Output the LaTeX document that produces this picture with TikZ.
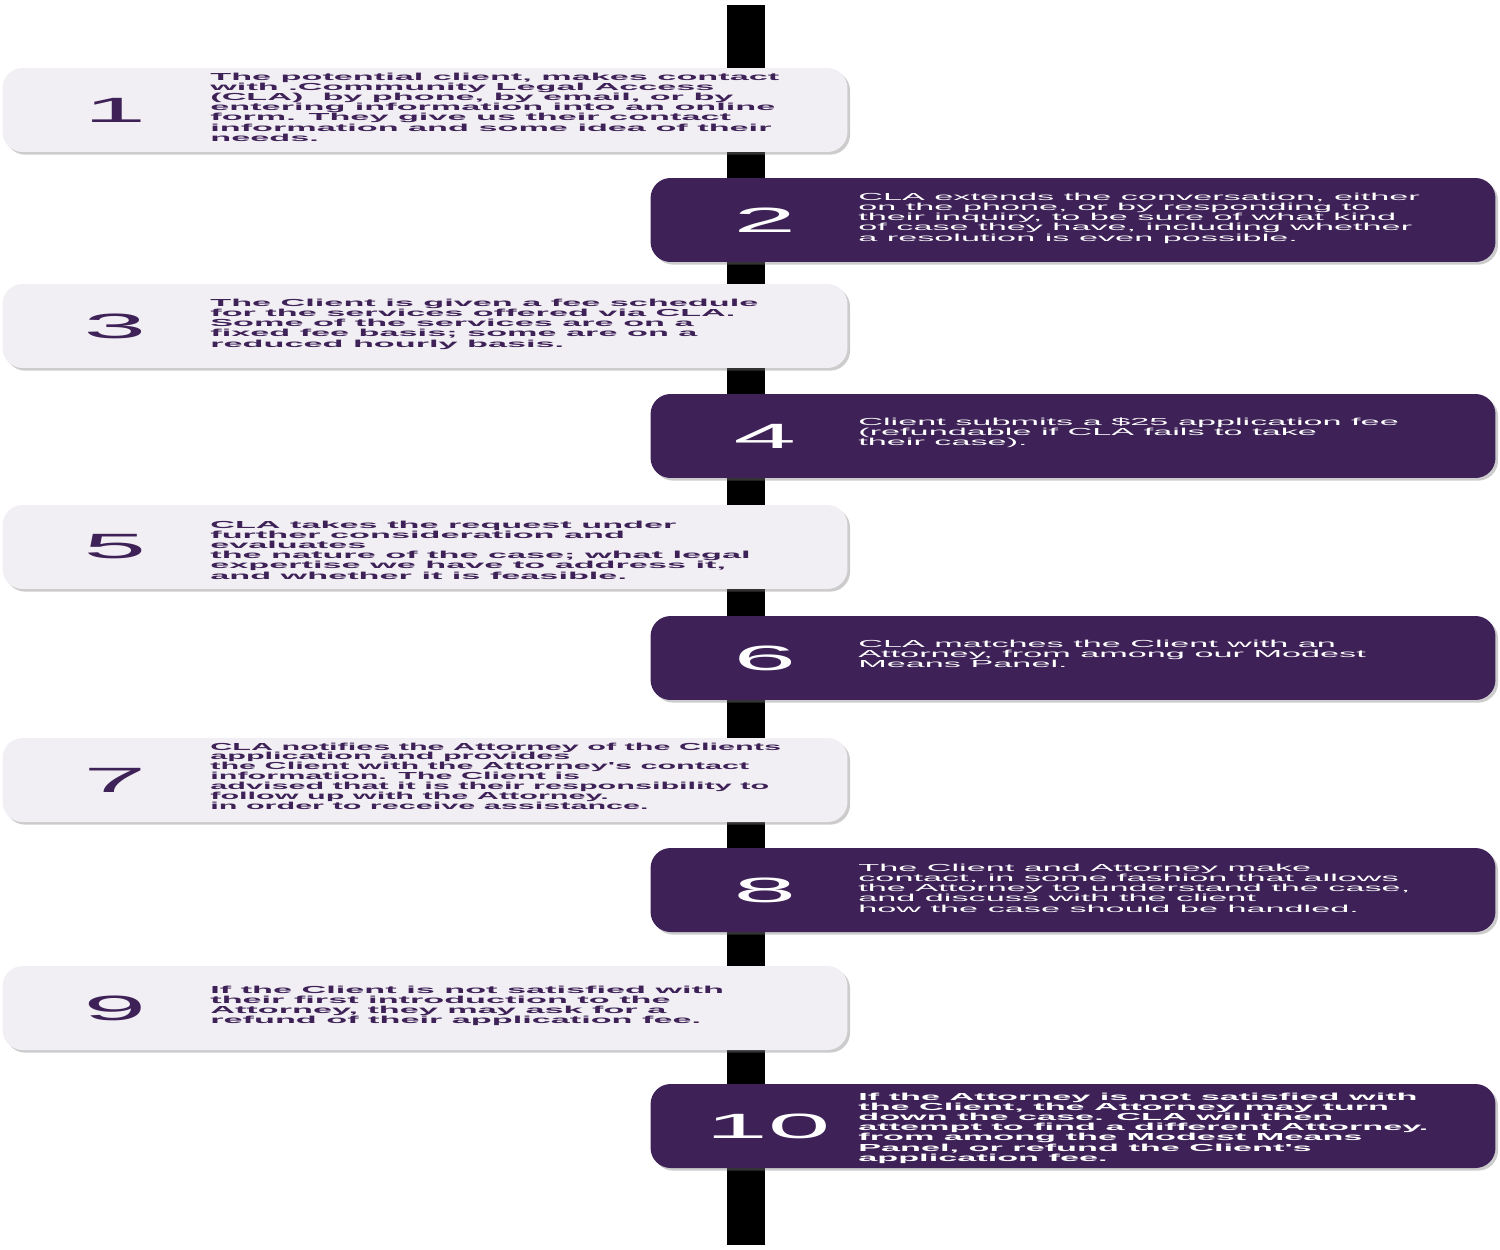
\documentclass[tikz,border=0pt]{standalone}
\usepackage{fontspec}
\setmainfont{Liberation Sans}
\newfontfamily\stepfont[FakeStretch=3.36]{Liberation Sans}
\newfontfamily\narrowstepfont[FakeStretch=3.0]{Liberation Sans}
\newfontfamily\numfont[FakeStretch=3.2]{Liberation Sans}
\usetikzlibrary{shadows}

\definecolor{claPurple}{HTML}{3D2157}
\definecolor{claLight}{HTML}{F1EFF3}

\tikzset{
  lightbox/.style={fill=claLight, rounded corners=0.4cm, minimum width=16.9cm,
    minimum height=1.68cm, inner sep=0pt,
    drop shadow={shadow xshift=1.5pt, shadow yshift=-1.5pt, opacity=0.4}},
  darkbox/.style={lightbox, fill=claPurple},
  lightnum/.style={text=claPurple, font=\numfont\fontsize{20}{20}\selectfont},
  darknum/.style={lightnum, text=white},
  lighttext/.style={anchor=west, align=left, inner sep=0pt, text=claPurple,
    font=\stepfont\bfseries\fontsize{5.8}{5.8}\selectfont},
  narrowtext/.style={lighttext, font=\narrowstepfont\bfseries\fontsize{5.8}{5.6}\selectfont},
  darktext/.style={lighttext, text=white, font=\stepfont\fontsize{5.8}{5.8}\selectfont},
  darkboldtext/.style={lighttext, text=white}
}

\begin{document}
\begin{tikzpicture}[x=0.02cm, y=-0.02cm]
	\useasboundingbox (0,0) rectangle (1500,1250);
	
	% --- TIMELINE BAR ---
	\coordinate (bartop) at (746,5);
	\coordinate (barbottom) at (746,1245);
	\draw[line width=22pt, black] (bartop) -- (barbottom);
	
	% --- STEP 1 ---
	\node[lightbox] (box1) at (425,110) {};
	\node[lightnum] (num1) at (115,110) {1};
	\node[lighttext] (txt1) at (210,107) {The potential client, makes contact\\with .Community Legal Access\\(CLA)\ \ by phone, by email, or by\\entering information into an online\\form. They give us their contact\\information and some idea of their\\needs.};
	
	% --- STEP 2 ---
	\node[darkbox] (box2) at (1073,220) {};
	\node[darknum] (num2) at (765,220) {2};
	\node[darktext] (txt2) at (858,218) {CLA extends the conversation, either\\on the phone, or by responding to\\their inquiry, to be sure of what kind\\of case they have, including whether\\a resolution is even possible.};
	
	% --- STEP 3 ---
	\node[lightbox] (box3) at (425,326) {};
	\node[lightnum] (num3) at (115,326) {3};
	\node[lighttext] (txt3) at (210,324) {The Client is given a fee schedule\\for the services offered via CLA.\\Some of the services are on a\\fixed fee basis; some are on a\\reduced hourly basis.};
	
	% --- STEP 4 ---
	\node[darkbox] (box4) at (1073,436) {};
	\node[darknum] (num4) at (765,436) {4};
	\node[darktext] (txt4) at (858,433) {Client submits a \$25 application fee\\(refundable if CLA fails to take\\their case).};
	
	% --- STEP 5 ---
	\node[lightbox] (box5) at (425,547) {};
	\node[lightnum] (num5) at (115,547) {5};
	\node[lighttext] (txt5) at (210,550) {CLA takes the request under\\further consideration and\\evaluates\\the nature of the case; what legal\\expertise we have to address it,\\and whether it is feasible.};
	
	% --- STEP 6 ---
	\node[darkbox] (box6) at (1073,658) {};
	\node[darknum] (num6) at (765,658) {6};
	\node[darktext] (txt6) at (858,654) {CLA matches the Client with an\\Attorney, from among our Modest\\Means Panel.};
	
	% --- STEP 7 ---
	\node[lightbox] (box7) at (425,780) {};
	\node[lightnum] (num7) at (115,780) {7};
	\node[narrowtext] (txt7) at (210,776) {CLA notifies the Attorney of the Clients\\application and provides\\the Client with the Attorney's contact\\information. The Client is\\advised that it is their responsibility to\\follow up with the Attorney.\\in order to receive assistance.};
	
	% --- STEP 8 ---
	\node[darkbox] (box8) at (1073,890) {};
	\node[darknum] (num8) at (765,890) {8};
	\node[darktext] (txt8) at (858,888) {The Client and Attorney make\\contact, in some fashion that allows\\the Attorney to understand the case,\\and discuss with the client\\how the case should be handled.};
	
	% --- STEP 9 ---
	\node[lightbox] (box9) at (425,1008) {};
	\node[lightnum] (num9) at (115,1008) {9};
	\node[lighttext] (txt9) at (210,1006) {If the Client is not satisfied with\\their first introduction to the\\Attorney, they may ask for a\\refund of their application fee.};
	
	% --- STEP 10 ---
	\node[darkbox] (box10) at (1073,1126) {};
	\node[darknum] (num10) at (768,1126) {10};
	\node[darkboldtext] (txt10) at (858,1128) {If the Attorney is not satisfied with\\the Client, the Attorney may turn\\down the case. CLA will then\\attempt to find a different Attorney.\\from among the Modest Means\\Panel, or refund the Client's\\application fee.};
	
\end{tikzpicture}
\end{document}
